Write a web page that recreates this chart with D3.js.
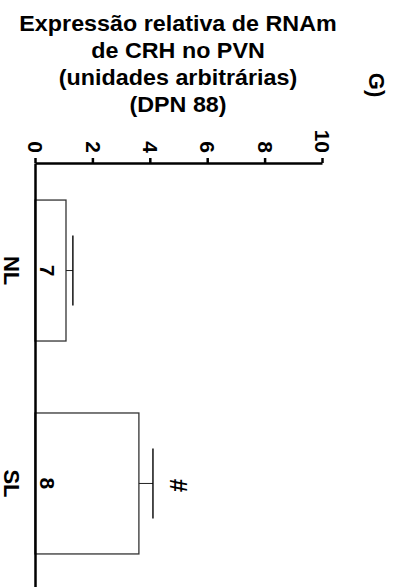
<!DOCTYPE html>
<html>
<head>
<meta charset="utf-8">
<script src="https://cdn.jsdelivr.net/npm/d3@7"></script>
<style>
  body { margin: 0; background: #fff; }
  text { font-family: "Liberation Sans", Arial, sans-serif; font-weight: bold; }
</style>
</head>
<body>
<div class="canvas"></div>
<script>
// data
const groups = ["NL", "SL"];
const means = [1.08, 3.62];
const sems = [0.24, 0.49];
const counts = ["7", "8"];
const marks = ["", "#"];
const tickValues = [0, 2, 4, 6, 8, 10];
const titleLines = [
  "Expressão relativa de RNAm",
  "de CRH no PVN",
  "(unidades arbitrárias)",
  "(DPN 88)"
];

const data = groups.map((g, i) => ({
  group: g, mean: means[i], sem: sems[i], n: counts[i], mark: marks[i]
}));

const svg = d3
  .select(".canvas")
  .append("svg")
  .attr("width", 403)
  .attr("height", 587);

// value axis runs left -> right, categories run top -> bottom (rotated plot)
const axisY = 163;
const x = d3.scaleLinear().domain([0, 10]).range([35, 322]);
const y = d3
  .scaleBand()
  .domain(groups)
  .range([axisY, 591])
  .paddingInner(0.338)
  .paddingOuter(0.174);

// title
const title = svg
  .append("g")
  .attr("transform", "translate(178,0) scale(1.06,1)");
title
  .selectAll("text")
  .data(titleLines)
  .enter()
  .append("text")
  .text((d) => d)
  .attr("x", 0)
  .attr("y", (d, i) => 31.5 + i * 26.7)
  .attr("text-anchor", "middle")
  .attr("font-size", 22)
  .attr("fill", "#000");

// panel letter
svg
  .append("text")
  .text("G)")
  .attr("transform", "translate(377,85) rotate(90)")
  .attr("text-anchor", "middle")
  .attr("dy", "0.35em")
  .attr("font-size", 22)
  .attr("fill", "#000");

// bars
svg
  .selectAll("rect.bar")
  .data(data)
  .enter()
  .append("rect")
  .attr("class", "bar")
  .attr("x", x(0))
  .attr("y", (d) => y(d.group))
  .attr("width", (d) => x(d.mean) - x(0))
  .attr("height", y.bandwidth())
  .attr("fill", "#fff")
  .attr("stroke", "#333")
  .attr("stroke-width", 1.3);

// error bars (upper only)
const capHalf = 35;
const err = svg.selectAll("g.err").data(data).enter().append("g").attr("class", "err");
err
  .append("line")
  .attr("x1", (d) => x(d.mean))
  .attr("x2", (d) => x(d.mean + d.sem))
  .attr("y1", (d) => y(d.group) + y.bandwidth() / 2)
  .attr("y2", (d) => y(d.group) + y.bandwidth() / 2)
  .attr("stroke", "#222")
  .attr("stroke-width", 1);
err
  .append("line")
  .attr("x1", (d) => x(d.mean + d.sem))
  .attr("x2", (d) => x(d.mean + d.sem))
  .attr("y1", (d) => y(d.group) + y.bandwidth() / 2 - capHalf)
  .attr("y2", (d) => y(d.group) + y.bandwidth() / 2 + capHalf)
  .attr("stroke", "#000")
  .attr("stroke-width", 1.4);

// n inside bars
svg
  .selectAll("text.n")
  .data(data)
  .enter()
  .append("text")
  .attr("class", "n")
  .text((d) => d.n)
  .attr("transform", (d) => `translate(${x(0) + 12.5},${y(d.group) + y.bandwidth() / 2}) rotate(90)`)
  .attr("text-anchor", "middle")
  .attr("dy", "0.35em")
  .attr("font-size", 21)
  .attr("fill", "#000");

// significance mark
svg
  .selectAll("text.mark")
  .data(data)
  .enter()
  .append("text")
  .attr("class", "mark")
  .text((d) => d.mark)
  .attr("transform", (d) => `translate(${x(d.mean + d.sem) + 25},${y(d.group) + y.bandwidth() / 2 + 2}) rotate(90)`)
  .attr("text-anchor", "middle")
  .attr("dy", "0.35em")
  .attr("font-size", 24)
  .attr("fill", "#000");

// axes
const xAxis = d3.axisTop(x).tickValues(tickValues).tickSize(5).tickSizeOuter(0);
const xAxisGroup = svg
  .append("g")
  .attr("transform", `translate(0,${axisY})`)
  .call(xAxis);
xAxisGroup.select(".domain").attr("stroke-width", 2.5);
xAxisGroup.selectAll(".tick line").attr("stroke-width", 2.5);
xAxisGroup
  .selectAll(".tick text")
  .attr("y", null)
  .attr("dy", "0.35em")
  .attr("transform", "translate(0,-10) rotate(90)")
  .attr("text-anchor", "end")
  .attr("font-size", 21)
  .attr("font-family", null)
  .attr("fill", "#000");

const yAxis = d3.axisLeft(y).tickSize(0).tickSizeOuter(0);
const yAxisGroup = svg
  .append("g")
  .attr("transform", `translate(${x(0)},0)`)
  .call(yAxis);
yAxisGroup.select(".domain").attr("stroke-width", 2.5);
yAxisGroup
  .selectAll(".tick text")
  .attr("x", null)
  .attr("dy", "0.35em")
  .attr("transform", "translate(-23,0) rotate(90)")
  .attr("text-anchor", "middle")
  .attr("font-size", 22)
  .attr("font-family", null)
  .attr("fill", "#000");
</script>
</body>
</html>
